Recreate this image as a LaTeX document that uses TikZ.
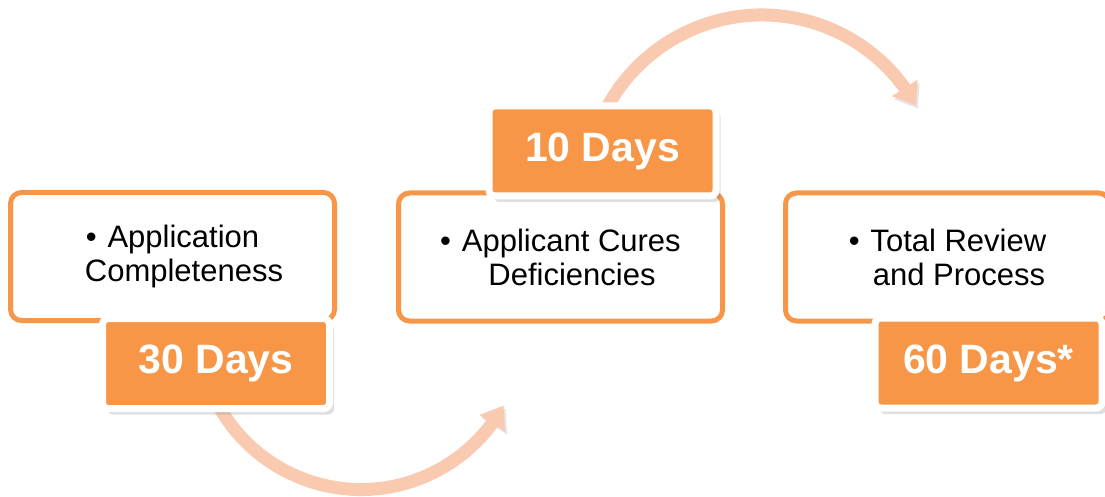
\documentclass[tikz,border=0pt]{standalone}
\usepackage{fontspec}
\setmainfont{Liberation Sans}
\usetikzlibrary{arrows.meta,bending,shadows}

\definecolor{accent}{HTML}{F79646}
\definecolor{peach}{HTML}{F9CAB0}

\tikzset{
  stage/.style={draw=accent, line width=5pt, fill=white, rounded corners=11pt,
    minimum width=324pt, minimum height=128pt, inner sep=0pt, align=center,
    font=\fontsize{31}{34}\selectfont},
  days/.style={draw=white, line width=7pt, fill=accent, rounded corners=6pt,
    minimum width=227pt, minimum height=90pt, inner sep=0pt, text=white,
    font=\fontsize{41}{45}\selectfont\bfseries,
    drop shadow={shadow xshift=4.5pt, shadow yshift=-6pt, opacity=0.25}},
  flow/.style={peach, line width=13pt, -{Triangle[length=21pt,width=29pt]},
    preaction={draw=black, opacity=0.1, transform canvas={shift={(2pt,-3pt)}}}}
}

\begin{document}
\begin{tikzpicture}[x=1pt, y=-1pt]
	\useasboundingbox (0,0) rectangle (1105,497);
	\clip (0,0) rectangle (1105,497);
	% centres of the two turning arrows
	\coordinate (turnlow) at (361,326.5);
	\coordinate (turnhigh) at (762,191);
	\draw[flow] (turnlow) ++(160:163) arc[start angle=160, end angle=29, radius=163];
	\draw[flow] (turnhigh) ++(-160:176) arc[start angle=-160, end angle=-29, radius=176];
	% the three stages
	\node[stage] (completeness) at (172.5,256.5) {\textbullet\hspace{0.35em}Application\\\hspace*{23pt}Completeness};
	\node[stage] (cures) at (560.5,257) {\textbullet\hspace{0.35em}Applicant Cures\\\hspace*{23pt}Deficiencies};
	\node[stage] (review) at (947.5,257) {\textbullet\hspace{0.35em}Total Review\\\hspace*{23pt}and Process};
	% time for each stage
	\node[days] (days30) at (216,363.5) {30 Days};
	\node[days] (days10) at (602.5,151) {10 Days};
	\node[days] (days60) at (988.5,363) {60 Days*};
\end{tikzpicture}
\end{document}
